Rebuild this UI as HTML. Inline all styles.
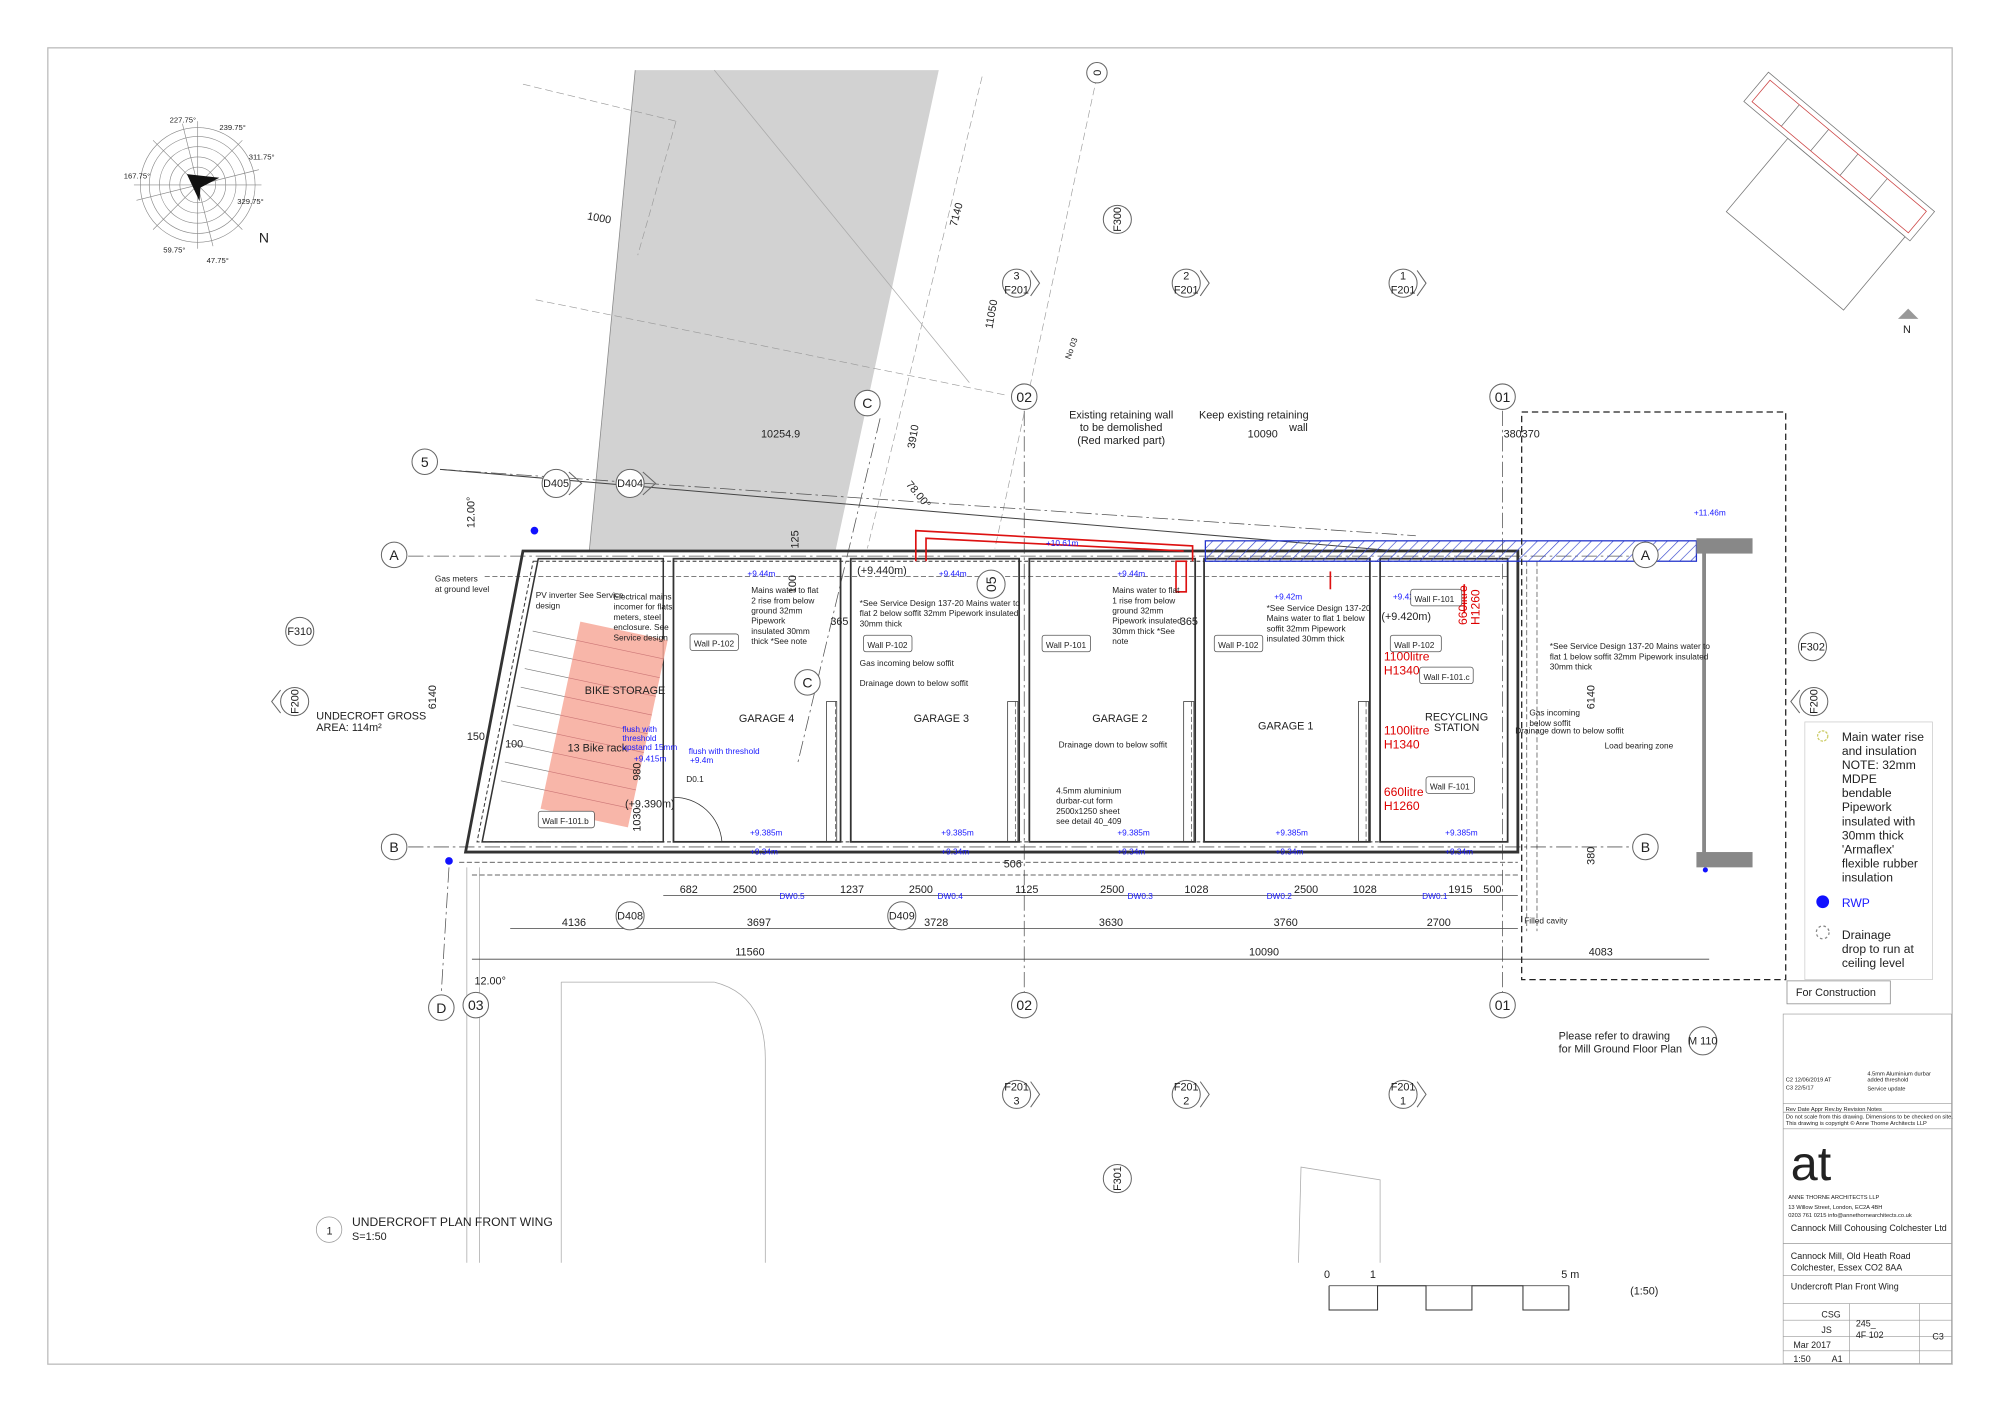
<!DOCTYPE html>
<html><head><meta charset="utf-8"><style>
html,body{margin:0;padding:0;background:#fff}
svg{display:block}
text{font-family:"Liberation Sans",sans-serif;fill:#222}
.s{font-size:6.5px}.m{font-size:8.5px}.l{font-size:11px}
.b{fill:#1a1aff}.r{fill:#d00}
</style></head><body>
<svg width="2000" height="1412" viewBox="0 0 1568 1107" xmlns="http://www.w3.org/2000/svg">
<defs>
<pattern id="h" width="6" height="6" patternUnits="userSpaceOnUse" patternTransform="rotate(45)"><line x1="0" y1="0" x2="0" y2="6" stroke="#3344cc" stroke-width="1"/></pattern>
</defs>
<rect x="0" y="0" width="1568" height="1107" fill="#fff"/>
<rect x="37.5" y="37.5" width="1493" height="1032" fill="none" stroke="#bbb" stroke-width="1"/>

<polygon points="498,55 736,55 655,432 462,432" fill="#d2d2d2"/>
<line x1="498" y1="55" x2="462" y2="432" stroke="#888" stroke-width=".6"/>
<g stroke="#999" stroke-width=".5" fill="none" stroke-dasharray="6,3">
<line x1="410" y1="66" x2="530" y2="95"/>
<line x1="530" y1="95" x2="500" y2="200"/>
<line x1="420" y1="235" x2="790" y2="310"/>
<line x1="770" y1="60" x2="680" y2="430"/>
<line x1="860" y1="60" x2="780" y2="430"/>
</g>
<g stroke="#aaa" stroke-width=".6" fill="none">
<line x1="560" y1="55" x2="760" y2="300"/>
<line x1="440" y1="770" x2="440" y2="990"/>
<line x1="440" y1="770" x2="560" y2="770"/>
<path d="M560,770 Q600,780 600,830 L600,990"/>
<polyline points="1018,990 1020,915 1082,925 1082,990"/>
<line x1="366" y1="680" x2="366" y2="990"/>
<line x1="376" y1="680" x2="376" y2="990"/>
</g>
<g stroke="#555" stroke-width=".6" stroke-dasharray="12,3,2,3" fill="none">
<line x1="320" y1="436" x2="1290" y2="436"/>
<line x1="320" y1="664" x2="1290" y2="664"/>
<line x1="345" y1="368" x2="1110" y2="420"/>
<line x1="803" y1="322" x2="803" y2="778"/>
<line x1="1178" y1="322" x2="1178" y2="778"/>
<line x1="690" y1="328" x2="625" y2="600"/>
<line x1="352" y1="680" x2="346" y2="778"/>
</g>
<line x1="345" y1="368" x2="1095" y2="432" stroke="#444" stroke-width=".8"/>

<g stroke="#333" fill="none">
<path d="M410,432 L1190,432 L1190,668 L365,668 Z" stroke-width="2.2"/>
<path d="M418,440 L1182,440 L1182,660 L374,660 Z" stroke-width=".8" stroke-dasharray="3,2"/>
<path d="M422,438 L520,438 L520,660 L378,660 Z" stroke-width="1.2"/>
<g stroke-width="1.4">
<rect x="528" y="438" width="131" height="222"/>
<rect x="667" y="438" width="132" height="222"/>
<rect x="807" y="438" width="130" height="222"/>
<rect x="944" y="438" width="130" height="222"/>
<rect x="1082" y="438" width="100" height="222"/>
</g>
<g stroke-width=".5" stroke-dasharray="4,2">
<line x1="360" y1="676" x2="1190" y2="676"/>
<line x1="370" y1="686" x2="1190" y2="686"/>
<line x1="380" y1="452" x2="1182" y2="452"/>
<line x1="655" y1="550" x2="655" y2="660"/>
<line x1="796" y1="550" x2="796" y2="660"/>
<line x1="934" y1="550" x2="934" y2="660"/>
<line x1="1071" y1="550" x2="1071" y2="660"/>
<line x1="1197" y1="440" x2="1197" y2="730"/>
<line x1="1205" y1="440" x2="1205" y2="730"/>
</g>
<rect x="648" y="550" width="8" height="110" stroke-width=".6"/>
<rect x="790" y="550" width="8" height="110" stroke-width=".6"/>
<rect x="928" y="550" width="8" height="110" stroke-width=".6"/>
<rect x="1065" y="550" width="8" height="110" stroke-width=".6"/>
<path d="M528,625 A38,38 0 0 1 566,660" stroke-width=".6"/>
<line x1="528" y1="625" x2="528" y2="660" stroke-width=".6"/>
</g>
<g stroke="#d11" stroke-width="1.3" fill="none">
<path d="M718,440 L718,416 L935,428 L935,440"/>
<path d="M726,440 L726,422 L928,432"/>
<rect x="922" y="440" width="8" height="24"/>
<line x1="1043" y1="448" x2="1043" y2="462"/>
<line x1="1148" y1="458" x2="1148" y2="480"/>
</g>
<rect x="945" y="424" width="385" height="16" fill="url(#h)" stroke="#2233cc" stroke-width="1"/>
<rect x="1330" y="422" width="44" height="12" fill="#888"/>
<rect x="1330" y="668" width="44" height="12" fill="#888"/>
<line x1="1336" y1="430" x2="1336" y2="675" stroke="#888" stroke-width="3"/>

<g transform="rotate(12 460 560)">
<rect x="440" y="490" width="70" height="150" fill="#f7a99a" opacity=".85"/>
<g stroke="#c77" stroke-width=".5">
<line x1="440" y1="505" x2="510" y2="505"/><line x1="440" y1="520" x2="510" y2="520"/><line x1="440" y1="535" x2="510" y2="535"/><line x1="440" y1="550" x2="510" y2="550"/><line x1="440" y1="565" x2="510" y2="565"/><line x1="440" y1="580" x2="510" y2="580"/><line x1="440" y1="595" x2="510" y2="595"/><line x1="440" y1="610" x2="510" y2="610"/><line x1="440" y1="625" x2="510" y2="625"/>
</g>
<g stroke="#777" stroke-width=".5">
<line x1="405" y1="505" x2="440" y2="505"/><line x1="405" y1="520" x2="440" y2="520"/><line x1="405" y1="535" x2="440" y2="535"/><line x1="405" y1="550" x2="440" y2="550"/><line x1="405" y1="565" x2="440" y2="565"/><line x1="405" y1="580" x2="440" y2="580"/><line x1="405" y1="595" x2="440" y2="595"/><line x1="405" y1="610" x2="440" y2="610"/><line x1="405" y1="625" x2="440" y2="625"/>
</g>
</g>

<g stroke="#444" stroke-width=".6">
<line x1="520" y1="702" x2="1190" y2="702"/>
<line x1="400" y1="728" x2="1190" y2="728"/>
<line x1="370" y1="752" x2="1340" y2="752"/>
</g>
<g class="m" text-anchor="middle">
<text x="540" y="700">682</text><text x="584" y="700">2500</text><text x="668" y="700">1237</text><text x="722" y="700">2500</text><text x="805" y="700">1125</text><text x="872" y="700">2500</text><text x="938" y="700">1028</text><text x="1024" y="700">2500</text><text x="1070" y="700">1028</text><text x="1145" y="700">1915</text><text x="1170" y="700">500</text>
<text x="450" y="726">4136</text><text x="595" y="726">3697</text><text x="734" y="726">3728</text><text x="871" y="726">3630</text><text x="1008" y="726">3760</text><text x="1128" y="726">2700</text>
<text x="588" y="749">11560</text><text x="991" y="749">10090</text><text x="1255" y="749">4083</text>
<text x="612" y="343">10254.9</text><text x="990" y="343">10090</text><text x="1193" y="343">380370</text>
<text x="794" y="680">506</text>
</g>
<g class="s">
<text x="611" y="705" class="s b">DW0.5</text><text x="735" y="705" class="s b">DW0.4</text><text x="884" y="705" class="s b">DW0.3</text><text x="993" y="705" class="s b">DW0.2</text><text x="1115" y="705" class="s b">DW0.1</text>
</g>

<g fill="#fff" stroke="#666" stroke-width=".8">
<circle cx="333" cy="362" r="10"/><circle cx="309" cy="435" r="10"/><circle cx="309" cy="664" r="10"/>
<circle cx="680" cy="316" r="10"/><circle cx="633" cy="535" r="10"/><circle cx="346" cy="790" r="10"/><circle cx="373" cy="788" r="10"/>
<circle cx="803" cy="311" r="10"/><circle cx="803" cy="788" r="10"/><circle cx="1178" cy="311" r="10"/><circle cx="1178" cy="788" r="10"/>
<circle cx="1290" cy="435" r="10"/><circle cx="1290" cy="664" r="10"/><circle cx="777" cy="458" r="11"/>
<circle cx="436" cy="379" r="11"/><circle cx="494" cy="379" r="11"/><circle cx="494" cy="718" r="11"/><circle cx="707" cy="718" r="11"/>
<circle cx="235" cy="495" r="11"/><circle cx="1421" cy="507" r="11"/><circle cx="1335" cy="816" r="11"/>
<circle cx="876" cy="172" r="11"/><circle cx="876" cy="924" r="11"/>
<circle cx="797" cy="222" r="11"/><circle cx="930" cy="222" r="11"/><circle cx="1100" cy="222" r="11"/>
<circle cx="797" cy="858" r="11"/><circle cx="930" cy="858" r="11"/><circle cx="1100" cy="858" r="11"/>
<circle cx="231" cy="550" r="11"/><circle cx="1422" cy="550" r="11"/><circle cx="860" cy="57" r="8"/>
</g>
<g fill="none" stroke="#666" stroke-width=".8">
<path d="M446,370 L456,379 L446,388"/><path d="M504,370 L514,379 L504,388"/>
<path d="M808,212 L815,222 L808,232"/><path d="M941,212 L948,222 L941,232"/><path d="M1111,212 L1118,222 L1111,232"/>
<path d="M808,848 L815,858 L808,868"/><path d="M941,848 L948,858 L941,868"/><path d="M1111,848 L1118,858 L1111,868"/>
<path d="M220,541 L213,550 L220,559"/><path d="M1411,541 L1404,550 L1411,559"/>
</g>
<g class="l" text-anchor="middle">
<text x="333" y="366">5</text><text x="309" y="439">A</text><text x="309" y="668">B</text><text x="680" y="320">C</text><text x="633" y="539">C</text><text x="346" y="794">D</text><text x="373" y="792">03</text>
<text x="803" y="315">02</text><text x="803" y="792">02</text><text x="1178" y="315">01</text><text x="1178" y="792">01</text><text x="1290" y="439">A</text><text x="1290" y="668">B</text><text x="777" y="462" transform="rotate(-90 777 458)">05</text>
</g>
<g class="m" text-anchor="middle">
<text x="436" y="382">D405</text><text x="494" y="382">D404</text><text x="494" y="721">D408</text><text x="707" y="721">D409</text>
<text x="235" y="498">F310</text><text x="1421" y="510">F302</text><text x="1335" y="819">M 110</text>
<text x="876" y="175" transform="rotate(-90 876 172)">F300</text><text x="876" y="927" transform="rotate(-90 876 924)">F301</text>
<text x="860" y="60" transform="rotate(-90 860 57)">0</text>
<text x="231" y="553" transform="rotate(-90 231 550)">F200</text><text x="1422" y="553" transform="rotate(-90 1422 550)">F200</text>
<text x="797" y="219">3</text><text x="797" y="230">F201</text><text x="930" y="219">2</text><text x="930" y="230">F201</text><text x="1100" y="219">1</text><text x="1100" y="230">F201</text>
<text x="797" y="855">F201</text><text x="797" y="866">3</text><text x="930" y="855">F201</text><text x="930" y="866">2</text><text x="1100" y="855">F201</text><text x="1100" y="866">1</text>
</g>

<g class="s">
<text x="341" y="456">Gas meters</text><text x="341" y="464">at ground level</text>
<text x="420" y="469">PV inverter See Service</text><text x="420" y="477">design</text>
<text x="481" y="470">Electrical mains</text><text x="481" y="478">incomer for flats</text><text x="481" y="486">meters, steel</text><text x="481" y="494">enclosure. See</text><text x="481" y="502">Service design</text>
<text x="589" y="465">Mains water to flat</text><text x="589" y="473">2 rise from below</text><text x="589" y="481">ground 32mm</text><text x="589" y="489">Pipework</text><text x="589" y="497">insulated 30mm</text><text x="589" y="505">thick *See note</text>
<text x="674" y="475">*See Service Design 137-20 Mains water to</text><text x="674" y="483">flat 2 below soffit 32mm Pipework insulated</text><text x="674" y="491">30mm thick</text>
<text x="674" y="522">Gas incoming below soffit</text><text x="674" y="538">Drainage down to below soffit</text>
<text x="872" y="465">Mains water to flat</text><text x="872" y="473">1 rise from below</text><text x="872" y="481">ground 32mm</text><text x="872" y="489">Pipework insulated</text><text x="872" y="497">30mm thick *See</text><text x="872" y="505">note</text>
<text x="993" y="479">*See Service Design 137-20</text><text x="993" y="487">Mains water to flat 1 below</text><text x="993" y="495">soffit 32mm Pipework</text><text x="993" y="503">insulated 30mm thick</text>
<text x="830" y="586">Drainage down to below soffit</text>
<text x="828" y="622">4.5mm aluminium</text><text x="828" y="630">durbar-cut form</text><text x="828" y="638">2500x1250 sheet</text><text x="828" y="646">see detail 40_409</text>
<text x="1215" y="509">*See Service Design 137-20 Mains water to</text><text x="1215" y="517">flat 1 below soffit 32mm Pipework insulated</text><text x="1215" y="525">30mm thick</text>
<text x="1199" y="561">Gas incoming</text><text x="1199" y="569">below soffit</text><text x="1188" y="575">Drainage down to below soffit</text>
<text x="1258" y="587">Load bearing zone</text>
<text x="1195" y="724">Filled cavity</text>
</g>
<g class="s" text-anchor="middle">
<text x="490" y="544" class="m">BIKE STORAGE</text><text x="601" y="566" class="m">GARAGE 4</text><text x="738" y="566" class="m">GARAGE 3</text><text x="878" y="566" class="m">GARAGE 2</text><text x="1008" y="572" class="m">GARAGE 1</text><text x="1142" y="565" class="m">RECYCLING</text><text x="1142" y="573" class="m">STATION</text>
</g>
<text x="445" y="589" class="m">13 Bike rack</text>
<text x="248" y="564" class="m">UNDECROFT GROSS</text><text x="248" y="573" class="m">AREA: 114m²</text>
<text x="879" y="328" class="m" text-anchor="middle">Existing retaining wall</text><text x="879" y="338" class="m" text-anchor="middle">to be demolished</text><text x="879" y="348" class="m" text-anchor="middle">(Red marked part)</text>
<text x="983" y="328" class="m" text-anchor="middle">Keep existing retaining</text><text x="1018" y="338" class="m" text-anchor="middle">wall</text>
<text x="1222" y="815" class="m">Please refer to drawing</text><text x="1222" y="825" class="m">for Mill Ground Floor Plan</text>
<text x="460" y="172" class="m" transform="rotate(10 460 172)">1000</text>
<text x="750" y="178" class="m" transform="rotate(-75 750 178)">7140</text>
<text x="778" y="258" class="m" transform="rotate(-80 778 258)">11050</text>
<text x="717" y="352" class="m" transform="rotate(-80 717 352)">3910</text>
<text x="710" y="380" class="m" transform="rotate(50 710 380)">78.00°</text>
<text x="372" y="414" class="m" transform="rotate(-90 372 414)">12.00°</text>
<text x="372" y="772" class="m">12.00°</text>
<text x="342" y="556" class="m" transform="rotate(-90 342 556)">6140</text>
<text x="1250" y="556" class="m" transform="rotate(-90 1250 556)">6140</text>
<text x="1250" y="678" class="m" transform="rotate(-90 1250 678)">380</text>
<text x="839" y="282" class="s" transform="rotate(-70 839 282)">No 03</text>
<text x="366" y="580" class="m">150</text><text x="396" y="586" class="m">100</text>
<text x="626" y="430" class="m" transform="rotate(-90 626 430)">125</text>
<text x="624" y="465" class="m" transform="rotate(-90 624 465)">100</text>
<text x="651" y="490" class="m">365</text><text x="925" y="490" class="m">365</text>
<text x="672" y="450" class="m">(+9.440m)</text><text x="1083" y="486" class="m">(+9.420m)</text><text x="490" y="633" class="m">(+9.390m)</text>
<text x="502" y="612" class="m" transform="rotate(-90 502 612)">980</text><text x="502" y="652" class="m" transform="rotate(-90 502 652)">1030</text>
<g class="s">
<text x="586" y="452" class="b">+9.44m</text><text x="736" y="452" class="b">+9.44m</text><text x="876" y="452" class="b">+9.44m</text><text x="999" y="470" class="b">+9.42m</text><text x="1092" y="470" class="b">+9.42</text>
<text x="820" y="428" class="b">+10.61m</text><text x="1328" y="404" class="b">+11.46m</text>
<text x="588" y="655" class="b">+9.385m</text><text x="738" y="655" class="b">+9.385m</text><text x="876" y="655" class="b">+9.385m</text><text x="1000" y="655" class="b">+9.385m</text><text x="1133" y="655" class="b">+9.385m</text>
<text x="588" y="670" class="b">+9.34m</text><text x="738" y="670" class="b">+9.34m</text><text x="876" y="670" class="b">+9.34m</text><text x="1000" y="670" class="b">+9.34m</text><text x="1133" y="670" class="b">+9.34m</text>
<text x="497" y="597" class="b">+9.415m</text><text x="541" y="598" class="b">+9.4m</text><text x="540" y="591" class="b">flush with threshold</text><text x="488" y="574" class="b">flush with</text><text x="488" y="581" class="b">threshold</text><text x="488" y="588" class="b">upstand 15mm</text>
<text x="538" y="613" fill="#c0c">D0.1</text>
</g>
<g font-size="9.5">
<text x="1085" y="518" class="r">1100litre</text><text x="1085" y="529" class="r">H1340</text>
<text x="1085" y="576" class="r">1100litre</text><text x="1085" y="587" class="r">H1340</text>
<text x="1085" y="624" class="r">660litre</text><text x="1085" y="635" class="r">H1260</text>
<text x="1150" y="490" class="r" transform="rotate(-90 1150 490)">660litre</text><text x="1160" y="490" class="r" transform="rotate(-90 1160 490)">H1260</text>
</g>
<g fill="#fff" stroke="#555" stroke-width=".6">
<rect x="541" y="497" width="38" height="13" rx="2"/><rect x="677" y="498" width="38" height="13" rx="2"/><rect x="817" y="498" width="38" height="13" rx="2"/><rect x="952" y="498" width="38" height="13" rx="2"/>
<rect x="1090" y="498" width="40" height="13" rx="2"/><rect x="1113" y="523" width="42" height="13" rx="2"/><rect x="1106" y="462" width="40" height="13" rx="2"/><rect x="1118" y="609" width="38" height="13" rx="2"/><rect x="422" y="636" width="44" height="13" rx="2"/>
</g>
<g class="s">
<text x="544" y="507">Wall P-102</text><text x="680" y="508">Wall P-102</text><text x="820" y="508">Wall P-101</text><text x="955" y="508">Wall P-102</text>
<text x="1093" y="508">Wall P-102</text><text x="1116" y="533">Wall F-101.c</text><text x="1109" y="472">Wall F-101</text><text x="1121" y="619">Wall F-101</text><text x="425" y="646">Wall F-101.b</text>
</g>
<circle cx="419" cy="416" r="3" fill="#11f"/><circle cx="352" cy="675" r="3" fill="#11f"/><circle cx="1337" cy="682" r="2" fill="#11f"/>

<rect x="1193" y="323" width="207" height="445" fill="none" stroke="#222" stroke-width="1" stroke-dasharray="5,3"/>
<rect x="1415" y="566" width="100" height="202" fill="#fff" stroke="#ccc" stroke-width=".6"/>
<circle cx="1429" cy="577" r="4" fill="none" stroke="#cc6" stroke-dasharray="2,1"/>
<g font-size="9.5">
<text x="1444" y="581">Main water rise</text><text x="1444" y="592">and insulation</text><text x="1444" y="603">NOTE: 32mm</text><text x="1444" y="614">MDPE</text><text x="1444" y="625">bendable</text><text x="1444" y="636">Pipework</text><text x="1444" y="647">insulated with</text><text x="1444" y="658">30mm thick</text><text x="1444" y="669">'Armaflex'</text><text x="1444" y="680">flexible rubber</text><text x="1444" y="691">insulation</text>
<text x="1444" y="711" class="b">RWP</text>
<text x="1444" y="736">Drainage</text><text x="1444" y="747">drop to run at</text><text x="1444" y="758">ceiling level</text>
</g>
<circle cx="1429" cy="707" r="5" fill="#11f"/><circle cx="1429" cy="731" r="5" fill="none" stroke="#888" stroke-dasharray="2,2"/>
<rect x="1401" y="769" width="81" height="18" fill="#fff" stroke="#888" stroke-width=".6"/>
<text x="1408" y="781" class="m">For Construction</text>

<g stroke="#999" stroke-width=".5" fill="none">
<rect x="1398" y="795" width="132" height="274"/>
<line x1="1398" y1="865" x2="1530" y2="865"/><line x1="1398" y1="872" x2="1530" y2="872"/><line x1="1398" y1="885" x2="1530" y2="885"/>
<line x1="1398" y1="975" x2="1530" y2="975"/><line x1="1398" y1="1000" x2="1530" y2="1000"/><line x1="1398" y1="1022" x2="1530" y2="1022"/>
<line x1="1398" y1="1035" x2="1530" y2="1035"/><line x1="1398" y1="1048" x2="1530" y2="1048"/><line x1="1398" y1="1059" x2="1530" y2="1059"/>
<line x1="1450" y1="1022" x2="1450" y2="1069"/><line x1="1505" y1="1022" x2="1505" y2="1069"/>
</g>
<g font-size="4.5">
<text x="1400" y="848">C2  12/06/2019  AT</text><text x="1400" y="854">C3  22/5/17</text><text x="1464" y="843">4.5mm Aluminium durbar</text><text x="1464" y="848">added threshold</text><text x="1464" y="855">Service update</text>
<text x="1400" y="871">Rev   Date     Appr  Rev.by  Revision Notes</text>
<text x="1400" y="877">Do not scale from this drawing. Dimensions to be checked on site.</text><text x="1400" y="882">This drawing is copyright © Anne Thorne Architects LLP</text>
<text x="1402" y="940">ANNE THORNE ARCHITECTS LLP</text><text x="1402" y="948">13 Willow Street, London, EC2A 4BH</text><text x="1402" y="954">0203 761 0215 info@annethornearchitects.co.uk</text>
</g>
<text x="1404" y="925" font-size="38">at</text>
<g font-size="7">
<text x="1404" y="965">Cannock Mill Cohousing Colchester Ltd</text>
<text x="1404" y="987">Cannock Mill, Old Heath Road</text><text x="1404" y="996">Colchester, Essex CO2 8AA</text>
<text x="1404" y="1011">Undercroft Plan Front Wing</text>
<text x="1428" y="1033">CSG</text><text x="1455" y="1040">245_</text><text x="1455" y="1049">4F 102</text><text x="1515" y="1050">C3</text>
<text x="1428" y="1045">JS</text><text x="1406" y="1057">Mar 2017</text><text x="1406" y="1068">1:50</text><text x="1436" y="1068">A1</text>
</g>

<g class="m"><text x="1038" y="1002">0</text><text x="1074" y="1002">1</text><text x="1224" y="1002">5 m</text><text x="1278" y="1015">(1:50)</text></g>
<polyline points="1042,1008 1042,1027 1080,1027 1080,1008 1118,1008 1118,1027 1154,1027 1154,1008 1194,1008 1194,1027 1230,1027 1230,1008" fill="none" stroke="#333" stroke-width=".8"/>
<line x1="1042" y1="1008" x2="1230" y2="1008" stroke="#333" stroke-width=".6"/>

<circle cx="258" cy="964" r="10" fill="none" stroke="#999" stroke-width=".6"/>
<text x="256" y="968" class="m">1</text>
<text x="276" y="961" font-size="9.5">UNDERCROFT PLAN FRONT WING</text><text x="276" y="972" class="m">S=1:50</text>

<g transform="translate(155,145)" fill="none" stroke="#888" stroke-width=".5">
<circle r="45"/><circle r="38"/><circle r="30"/><circle r="22"/><circle r="14"/>
<line x1="-50" y1="0" x2="50" y2="0"/><line x1="0" y1="-50" x2="0" y2="50"/>
<line x1="-35" y1="-35" x2="35" y2="35"/><line x1="-35" y1="35" x2="35" y2="-35"/>
<line x1="-12" y1="-48" x2="12" y2="48"/><line x1="-48" y1="12" x2="48" y2="-12"/>
<polygon points="0,-12 16,8 0,3 -8,10" fill="#111" stroke="none" transform="rotate(-45)"/>
</g>
<g font-size="6"><text x="133" y="96">227.75°</text><text x="172" y="102">239.75°</text><text x="195" y="125">311.75°</text><text x="186" y="160">329.75°</text><text x="128" y="198">59.75°</text><text x="162" y="206">47.75°</text><text x="97" y="140">167.75°</text></g>
<text x="203" y="190" class="l">N</text>

<g transform="translate(1440,125) rotate(40)" fill="none" stroke="#777" stroke-width=".6">
<rect x="-85" y="-18" width="170" height="30"/>
<rect x="-80" y="-14" width="160" height="22" stroke="#c44"/>
<line x1="-50" y1="-14" x2="-50" y2="8"/><line x1="-20" y1="-14" x2="-20" y2="8"/><line x1="10" y1="-14" x2="10" y2="8"/><line x1="40" y1="-14" x2="40" y2="8"/>
<rect x="-40" y="12" width="120" height="75"/>
</g>
<polygon points="1488,250 1496,242 1504,250" fill="#999"/>
<text x="1492" y="261" class="m">N</text>
</svg>
</body></html>
